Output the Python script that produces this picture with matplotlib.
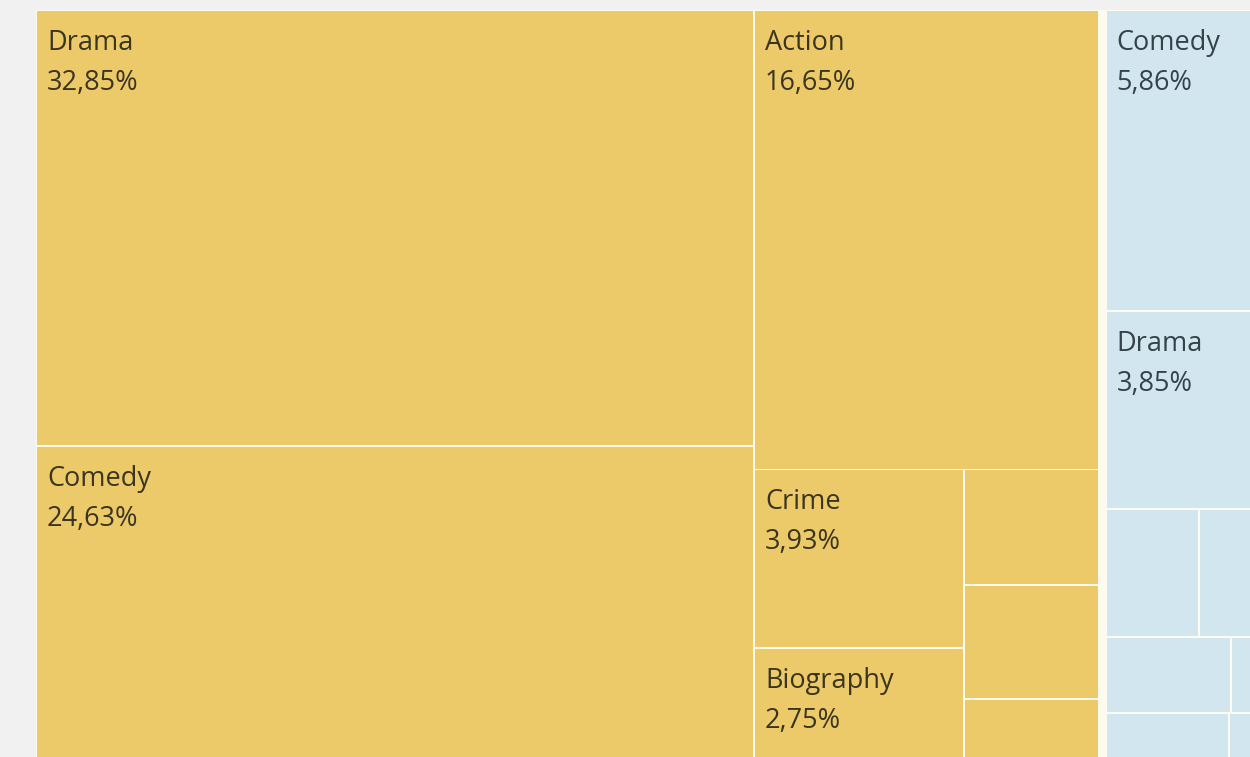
"""Treemap of genre shares, two colour groups (cropped view)."""
import matplotlib
matplotlib.use("Agg")
import matplotlib.pyplot as plt
from matplotlib.patches import Rectangle

# --- data (percent of total) ---
YELLOW_GENRES = ["Drama", "Comedy", "Action", "Crime", "Biography", "Other Y1", "Other Y2", "Other Y3"]
YELLOW_SHARE = [32.85, 24.63, 16.65, 3.93, 2.75, 1.65, 1.62, 1.05]

BLUE_GENRES = ["Comedy", "Drama", "Other B1", "Other B2", "Other B3", "Other B4", "Other B5", "Other B6"]
BLUE_SHARE = [5.86, 3.85, 1.25, 1.24, 0.99, 0.48, 0.78, 0.39]

# nesting of the tiles (indices into the lists above); "h" = side by side, "v" = stacked
YELLOW_TREE = ("h", [("v", [0, 1]),
                     ("v", [2, ("h", [("v", [3, 4]), ("v", [5, 6, 7])])])])
BLUE_TREE = ("v", [0, 1, ("h", [2, 3]), ("h", [4, 5]), ("h", [6, 7])])

YELLOW = "#ecca69"
BLUE = "#d1e6ee"
BG = "#f1f1f1"
TXT_Y = "#3a3520"
TXT_B = "#34424a"

# layout constants (pixel units)
X0, Y0, H = 36, 10, 763
PX_PER_PCT = 9530.0 / H  # width per percent for the full height
GAP = 0.9        # half the line between tiles
GROUP_GAP = 6.5  # strip between colour groups


def total(node, vals):
    if isinstance(node, int):
        return vals[node]
    return sum(total(c, vals) for c in node[1])


def layout(node, vals, x, y, w, h, out):
    if isinstance(node, int):
        out.append((node, x, y, w, h))
        return
    d, kids = node
    s = total(node, vals)
    pos = 0.0
    for k in kids:
        f = total(k, vals) / s
        if d == "h":
            layout(k, vals, x + pos * w, y, f * w, h, out)
        else:
            layout(k, vals, x, y + pos * h, w, f * h, out)
        pos += f


fig = plt.figure(figsize=(12.5, 7.57), dpi=100, facecolor=BG)
ax = fig.add_axes([0, 0, 1, 1])
ax.set_facecolor(BG)
ax.set_xlim(0, 1250)
ax.set_ylim(757, 0)
ax.axis("off")

groups = [(YELLOW_GENRES, YELLOW_SHARE, YELLOW_TREE, YELLOW, TXT_Y),
          (BLUE_GENRES, BLUE_SHARE, BLUE_TREE, BLUE, TXT_B)]

widths = [sum(g[1]) * PX_PER_PCT for g in groups]
# light backing that shows through the gaps
ax.add_patch(Rectangle((X0, Y0), sum(widths) + GROUP_GAP * len(groups), H,
                       fc="#fdfaf0", ec="none", zorder=1))

gx = X0
for (names, vals, tree, col, tcol), gw in zip(groups, widths):
    tiles = []
    layout(tree, vals, gx, Y0, gw, H, tiles)
    for i, x, y, w, h in tiles:
        ax.add_patch(Rectangle((x + GAP, y + GAP), w - 2 * GAP, h - 2 * GAP,
                               fc=col, ec="none", zorder=2))
        if vals[i] >= 2.0:
            ax.text(x + 11, y + 33, names[i], ha="left", va="center", fontsize=19.5,
                    family="Open Sans", color=tcol, zorder=4)
            ax.text(x + 11, y + 73, f"{vals[i]:.2f}%".replace(".", ","), ha="left", va="center",
                    fontsize=19.5, family="Open Sans", color=tcol, zorder=4)
    gx += gw + GROUP_GAP

fig.savefig("out.png", dpi=100, facecolor=BG)
